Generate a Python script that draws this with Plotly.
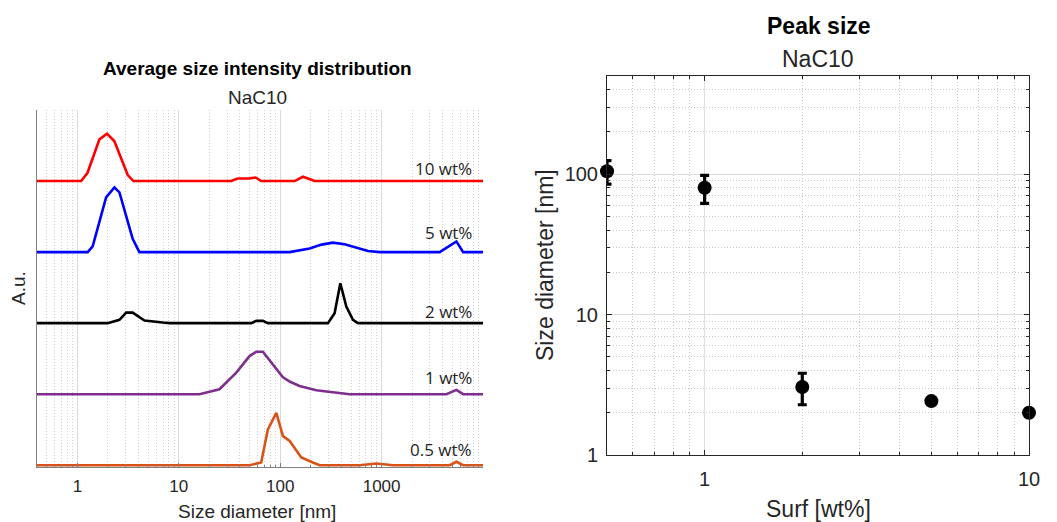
import math
import plotly.graph_objects as go

# ---- Intensity distributions (size in nm, intensity in a.u.) ----
conc_labels = ["0.5 wt%", "1 wt%", "2 wt%", "5 wt%", "10 wt%"]
colors = ["#D95319", "#7E2F8E", "#000000", "#0000FF", "#FF0000"]

size_05 = [0.4, 49.9, 65, 75.6, 91.6, 106.5, 124, 161.5, 210, 245, 608, 889, 1297, 4700, 5470, 6370, 10000]
int_05 = [0, 0, 0.38, 5.03, 7.37, 4.1, 3.41, 1.08, 0.38, 0, 0, 0.24, 0, 0, 0.48, 0, 0]

size_1 = [0.4, 16, 25.2, 36.9, 49.9, 58.1, 67.5, 84.7, 106, 124, 155, 227, 331, 484, 4360, 5470, 6370, 10000]
int_1 = [0, 0, 0.7, 3.03, 5.36, 5.97, 5.97, 4.2, 2.42, 1.78, 1.16, 0.56, 0.24, 0, 0, 0.6, 0, 0]

size_2 = [0.4, 1.99, 2.6, 3.03, 3.51, 4.59, 6.95, 8.1, 51.9, 58.1, 67.5, 75.6, 296, 344, 392, 449, 522, 585, 10000]
int_2 = [0, 0, 0.46, 1.48, 1.48, 0.36, 0.08, 0, 0, 0.32, 0.32, 0, 0, 1.4, 5.6, 2.32, 0.46, 0, 0]

size_5 = [0.4, 1.264, 1.416, 1.92, 2.32, 2.6, 3.51, 4.09, 124, 156, 195, 256, 331, 432, 564, 736, 958, 3740, 5470, 6370, 10000]
int_5 = [0, 0, 0.8, 7.7, 9.1, 8.4, 1.87, 0, 0, 0.2, 0.5, 1.05, 1.33, 1.1, 0.6, 0.15, 0, 0, 1.5, 0, 0]

size_10 = [0.4, 1.09, 1.26, 1.65, 1.96, 2.32, 3.14, 3.57, 32.9, 38, 50, 57.2, 65, 139, 167.6, 219, 10000]
int_10 = [0, 0, 1.16, 5.87, 6.67, 5.6, 0.84, 0, 0, 0.35, 0.38, 0.5, 0, 0, 0.6, 0, 0]

sizes = [size_05, size_1, size_2, size_5, size_10]
intensities = [int_05, int_1, int_2, int_5, int_10]
size_ticks = [1, 10, 100, 1000]

# ---- Peak size vs surfactant concentration ----
surf = [0.5, 1, 2, 5, 10]
peak_size = [105, 80, 3.05, 2.42, 2.0]
peak_err = [20, 18, 0.77, 0, 0]

W, H = 1057, 522
STEP = 10  # vertical offset between stacked curves
TXT = "#262626"
DOTS = "1px,2px"


def px(x, y):
    return x / W, 1 - y / H


fig = go.Figure()

for i, (s, v) in enumerate(zip(sizes, intensities)):
    fig.add_trace(go.Scatter(
        x=s, y=[val + i * STEP for val in v], mode="lines",
        line=dict(color=colors[i], width=2.6), xaxis="x", yaxis="y",
        hoverinfo="skip"))

fig.add_trace(go.Scatter(
    x=surf, y=peak_size, mode="markers", xaxis="x2", yaxis="y2",
    marker=dict(color="black", size=14),
    error_y=dict(type="data", array=peak_err, visible=True,
                 color="black", thickness=3.2, width=4.5),
    cliponaxis=False))

minor_left = dict(dtick="D1", showgrid=True, gridcolor="#cfcfcf", griddash=DOTS,
                  gridwidth=1, ticks="inside", ticklen=2, tickcolor="#808080")
minor_right = dict(dtick="D1", showgrid=True, gridcolor="#c8c8c8", griddash=DOTS,
                   gridwidth=1, ticks="inside", ticklen=3, tickcolor="#262626")

fig.update_layout(
    width=W, height=H, autosize=False, margin=dict(l=0, r=0, t=0, b=0, autoexpand=False),
    paper_bgcolor="white", plot_bgcolor="white", showlegend=False,
    font=dict(family="Liberation Sans, Arial", color=TXT),
    xaxis=dict(type="log", range=[math.log10(0.4), 4], domain=[37 / W, 483 / W],
               anchor="y", automargin=False, showline=True, linecolor="#808080", linewidth=1,
               ticks="inside", ticklen=4, tickcolor="#808080",
               tickmode="array", tickvals=size_ticks, ticktext=[str(t) for t in size_ticks],
               tickfont=dict(size=17, color=TXT), ticklabelstandoff=4,
               showgrid=True, gridcolor="#d9d9d9", gridwidth=1, zeroline=False,
               minor=minor_left),
    yaxis=dict(range=[-0.25, 50], domain=[(H - 467) / H, (H - 110) / H],
               anchor="x", automargin=False, showline=True, linecolor="#808080", linewidth=1,
               showticklabels=False, ticks="", showgrid=False, zeroline=False),
    xaxis2=dict(type="log", range=[math.log10(0.5), 1], domain=[607 / W, 1029 / W],
                anchor="y2", automargin=False, showline=True, mirror="allticks",
                linecolor="#262626", linewidth=1, ticks="inside", ticklen=5,
                tickcolor="#262626", dtick=1,
                exponentformat="none", tickfont=dict(size=20, color=TXT),
                ticklabelstandoff=6,
                showgrid=True, gridcolor="#dedede", gridwidth=1, zeroline=False,
                minor=minor_right),
    yaxis2=dict(type="log", range=[0, math.log10(500)],
                domain=[(H - 455) / H, (H - 76) / H],
                anchor="x2", automargin=False, showline=True, mirror="allticks",
                linecolor="#262626", linewidth=1, ticks="inside", ticklen=5,
                tickcolor="#262626", dtick=1,
                exponentformat="none", tickfont=dict(size=20, color=TXT),
                ticklabelstandoff=4,
                showgrid=True, gridcolor="#dedede", gridwidth=1, zeroline=False,
                minor=minor_right),
)

# Concentration labels next to each curve
label_dy = [2.2, 2.35, 1.65, 2.8, 1.78]
for i, lab in enumerate(conc_labels):
    fig.add_annotation(
        x=474 / W, xref="paper", y=i * STEP + label_dy[i], yref="y",
        text=lab, showarrow=False, xanchor="right", yanchor="middle",
        font=dict(family="Open Sans", size=17, color=TXT))


def text_at(x, y, text, size, bold=False, angle=0):
    xp, yp = px(x, y)
    fig.add_annotation(
        x=xp, y=yp, xref="paper", yref="paper", showarrow=False,
        text=f"<b>{text}</b>" if bold else text, textangle=angle,
        xanchor="center", yanchor="middle",
        font=dict(family="Liberation Sans, Arial", size=size, color="black" if bold else TXT))


text_at(257, 68, "Average size intensity distribution", 19, bold=True)
text_at(257, 97, "NaC10", 19)
text_at(257, 511, "Size diameter [nm]", 19)
text_at(18, 288, "A.u.", 19, angle=-90)

text_at(819, 26, "Peak size", 23, bold=True)
text_at(818, 59, "NaC10", 23)
text_at(818, 509, "Surf [wt%]", 23)
text_at(545, 265, "Size diameter [nm]", 23, angle=-90)

# Page without body margin so the fixed-size figure fits the window exactly
fig.write_html(
    "out.html",
    post_script="document.body.style.margin='0';document.body.style.overflow='hidden';")
